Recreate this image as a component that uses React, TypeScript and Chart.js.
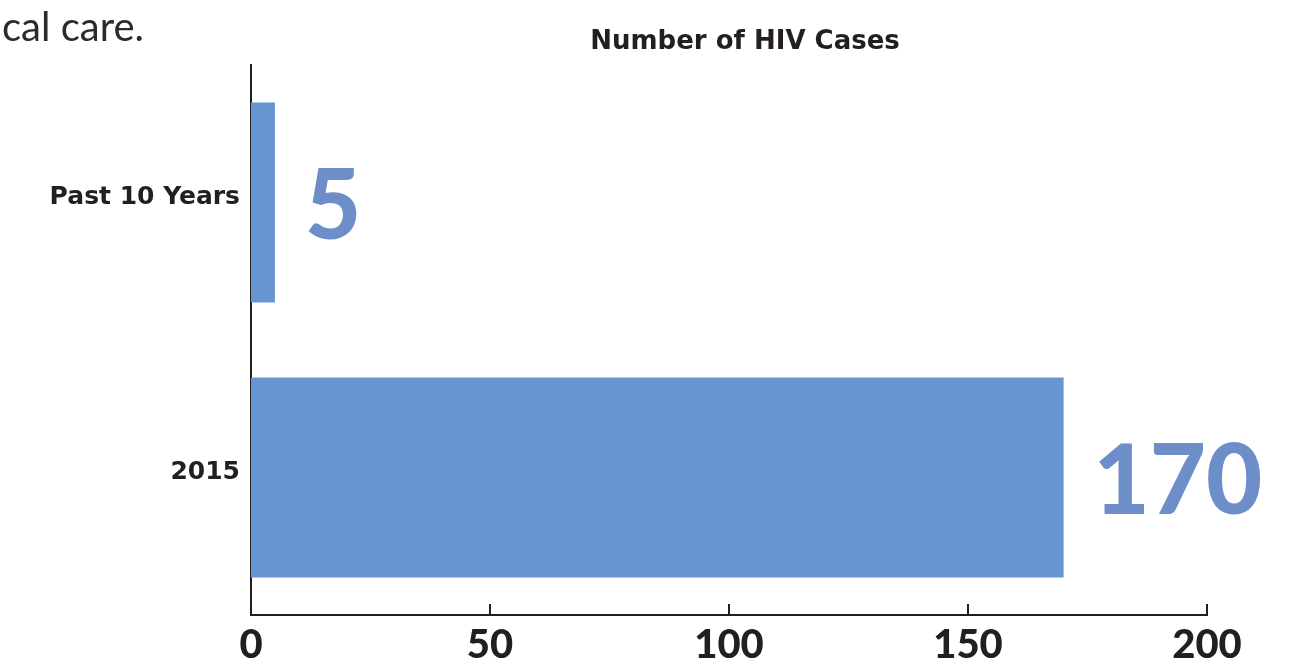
import React, { useEffect, useRef } from "react";
import { Chart, registerables } from "chart.js";

Chart.register(...registerables);

const categories = ["Past 10 Years", "2015"];
const hivCases = [5, 170];
const xTicks = [0, 50, 100, 150, 200];
const chartTitle = "Number of HIV Cases";
const introText = "cal care.";

const BAR_COLOR = "#6795d0";
const LABEL_COLOR = "#6e8ec9";
const AXIS_COLOR = "#231f20";
const FONT = "Lato, 'Open Sans', sans-serif";
const WIDE = "'DejaVu Sans', Lato, sans-serif";

export default function App() {
  const ref = useRef<HTMLCanvasElement | null>(null);

  useEffect(() => {
    document.body.style.margin = "0";
    const canvas = ref.current;
    if (!canvas) return;

    const extras = {
      id: "extras",
      afterDatasetsDraw(chart: any) {
        const ctx = chart.ctx;
        const meta = chart.getDatasetMeta(0);
        ctx.save();
        ctx.fillStyle = LABEL_COLOR;
        ctx.font = `900 97px ${FONT}`;
        ctx.textAlign = "left";
        ctx.textBaseline = "middle";
        meta.data.forEach((el: any, i: number) => {
          ctx.fillText(String(hivCases[i]), el.x + 30, el.y + 5);
        });
        ctx.restore();
      },
      afterDraw(chart: any) {
        const ctx = chart.ctx;
        const xs = chart.scales.x;
        const area = chart.chartArea;
        ctx.save();
        ctx.strokeStyle = AXIS_COLOR;
        ctx.lineWidth = 2;
        xTicks.slice(1).forEach((v) => {
          const px = Math.round(xs.getPixelForValue(v));
          ctx.beginPath();
          ctx.moveTo(px, area.bottom);
          ctx.lineTo(px, area.bottom - 11);
          ctx.stroke();
        });
        ctx.fillStyle = AXIS_COLOR;
        ctx.font = `bold 26px ${WIDE}`;
        ctx.textAlign = "center";
        ctx.textBaseline = "middle";
        ctx.fillText(chartTitle, 745, 42);
        ctx.restore();
      },
    };

    const chart = new Chart(canvas, {
      type: "bar",
      data: {
        labels: categories,
        datasets: [
          {
            data: hivCases,
            backgroundColor: BAR_COLOR,
            borderWidth: 0,
            categoryPercentage: 1,
            barPercentage: 0.727,
          },
        ],
      },
      options: {
        indexAxis: "y",
        animation: false,
        responsive: false,
        maintainAspectRatio: false,
        layout: { padding: { top: 65, right: 103, left: 0, bottom: 0 } },
        plugins: {
          legend: { display: false },
          title: { display: false },
          tooltip: { enabled: false },
        },
        scales: {
          x: {
            type: "linear",
            min: 0,
            max: 200,
            afterBuildTicks: (s: any) => {
              s.ticks = xTicks.map((v) => ({ value: v }));
            },
            afterFit: (s: any) => {
              s.height = 54;
            },
            grid: { display: false, drawTicks: false },
            border: { display: true, color: AXIS_COLOR, width: 2 },
            ticks: {
              padding: 6,
              color: AXIS_COLOR,
              font: { family: FONT, size: 40, weight: "900" },
              maxRotation: 0,
            },
          },
          y: {
            afterFit: (s: any) => {
              s.width = 251;
            },
            grid: { display: false, drawTicks: false },
            border: { display: true, color: AXIS_COLOR, width: 2 },
            ticks: {
              padding: 11,
              labelOffset: -5,
              color: AXIS_COLOR,
              font: { family: WIDE, size: 25, weight: "bold" },
            },
          },
        },
      },
      plugins: [extras],
    });
    return () => chart.destroy();
  }, []);

  return (
    <div style={{ position: "fixed", left: 0, top: 0, width: 1310, height: 669, background: "#fff" }}>
      <canvas ref={ref} width={1310} height={669} style={{ display: "block", width: 1310, height: 669 }} />
      <div
        style={{
          position: "absolute",
          left: 2,
          top: 2,
          fontFamily: FONT,
          fontSize: 40,
          color: "#2b2b2b",
          lineHeight: "48px",
          whiteSpace: "nowrap",
        }}
      >
        {introText}
      </div>
    </div>
  );
}
